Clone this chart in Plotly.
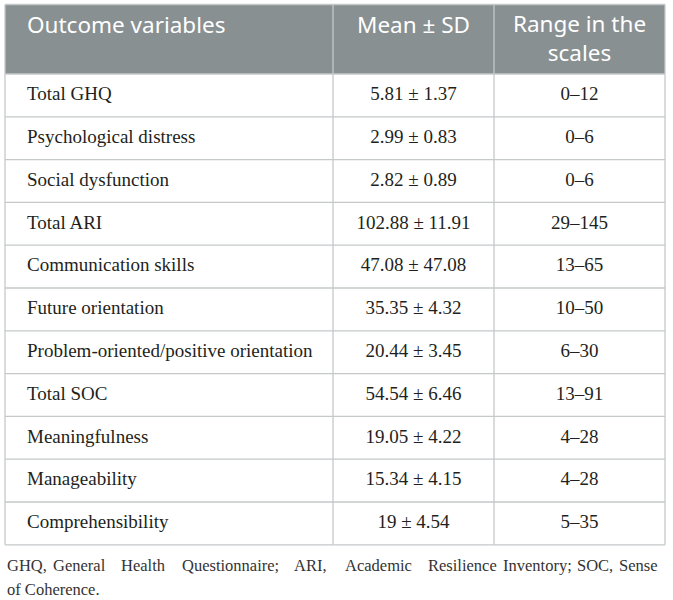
import plotly.graph_objects as go

header_labels = ["Outcome variables", "Mean ± SD", "Range in the<br>scales"]

variables = [
    "Total GHQ",
    "Psychological distress",
    "Social dysfunction",
    "Total ARI",
    "Communication skills",
    "Future orientation",
    "Problem-oriented/positive orientation",
    "Total SOC",
    "Meaningfulness",
    "Manageability",
    "Comprehensibility",
]

mean_sd = [
    "5.81 ± 1.37",
    "2.99 ± 0.83",
    "2.82 ± 0.89",
    "102.88 ± 11.91",
    "47.08 ± 47.08",
    "35.35 ± 4.32",
    "20.44 ± 3.45",
    "54.54 ± 6.46",
    "19.05 ± 4.22",
    "15.34 ± 4.15",
    "19 ± 4.54",
]

scale_range = [
    "0–12", "0–6", "0–6", "29–145", "13–65", "10–50",
    "6–30", "13–91", "4–28", "4–28", "5–35",
]

footnote_1 = "GHQ, General Health Questionnaire; ARI, Academic Resilience Inventory; SOC, Sense"
footnote_2 = "of Coherence."

# layout (pixels, the axes are mapped 1:1 onto the page)
W, H = 673, 600
col_edges = [5, 333, 494, 665]
top, header_bottom, row_h = 4.5, 74, 42.8
pad_left = 22
line_col = "#c5c8c9"
header_fill = "#899092"
# word centres of the justified first footnote line (first/last word anchored at the edges)
word_x = [5, 79, 143, 230, 310.5, 378.5, 462, 537.5, 594.5, 660]

n_rows = len(variables)
bottom = header_bottom + row_h * n_rows
row_mid = [header_bottom + row_h * (i + 0.5) for i in range(n_rows)]
col_mid = [(col_edges[i] + col_edges[i + 1]) / 2 for i in range(3)]

serif = dict(family="Liberation Serif", size=19, color="#231f20")
sans = dict(family="Noto Sans", size=22.5, color="white")

fig = go.Figure()

shapes = [dict(type="rect", x0=col_edges[0], x1=col_edges[-1], y0=top, y1=header_bottom,
               fillcolor=header_fill, line=dict(width=0), layer="below")]
# horizontal rules
for y in [top, header_bottom] + [header_bottom + row_h * (i + 1) for i in range(n_rows)]:
    shapes.append(dict(type="line", x0=col_edges[0], x1=col_edges[-1], y0=y, y1=y,
                       line=dict(color=line_col, width=1.3)))
# vertical rules
for x in col_edges:
    shapes.append(dict(type="line", x0=x, x1=x, y0=top, y1=bottom,
                       line=dict(color=line_col, width=1.3)))

# body text
fig.add_trace(go.Scatter(x=[col_edges[0] + pad_left] * n_rows, y=row_mid, text=variables,
                         mode="text", textposition="middle right", textfont=serif,
                         hoverinfo="skip", showlegend=False))
fig.add_trace(go.Scatter(x=[col_mid[1]] * n_rows, y=row_mid, text=mean_sd,
                         mode="text", textposition="middle center", textfont=serif,
                         hoverinfo="skip", showlegend=False))
fig.add_trace(go.Scatter(x=[col_mid[2]] * n_rows, y=row_mid, text=scale_range,
                         mode="text", textposition="middle center", textfont=serif,
                         hoverinfo="skip", showlegend=False))

# header text: first line sits near the top of the header band
for j, label in enumerate(header_labels):
    n_lines = label.count("<br>") + 1
    xs = col_edges[0] + pad_left if j == 0 else col_mid[j]
    pos = "middle right" if j == 0 else "middle center"
    fig.add_trace(go.Scatter(x=[xs], y=[27 + 0.63 * sans["size"] * (n_lines - 1)],
                             text=[label], mode="text", textposition=pos, textfont=sans,
                             hoverinfo="skip", showlegend=False))

# footnote
foot_font = dict(family="Liberation Serif", size=16.5, color="#333333")
words = footnote_1.split(" ")
for k, (wx, word) in enumerate(zip(word_x, words)):
    anchor = "left" if k == 0 else ("right" if k == len(words) - 1 else "center")
    fig.add_annotation(text=word, x=wx, y=565, xref="x", yref="y", xanchor=anchor,
                       yanchor="middle", showarrow=False, font=foot_font)
fig.add_annotation(text=footnote_2, x=word_x[0], y=589, xref="x", yref="y", xanchor="left",
                   yanchor="middle", showarrow=False, font=foot_font)

fig.update_xaxes(range=[0, W], visible=False, fixedrange=True)
fig.update_yaxes(range=[H, 0], visible=False, fixedrange=True)
fig.update_layout(width=W, height=H, margin=dict(l=0, r=0, t=0, b=0),
                  paper_bgcolor="white", plot_bgcolor="white", shapes=shapes)

# drop the browser's default body margin so the page maps 1:1 onto the window
fig.write_html("out.html", config={"displayModeBar": False},
               post_script="document.body.style.margin='0';")
